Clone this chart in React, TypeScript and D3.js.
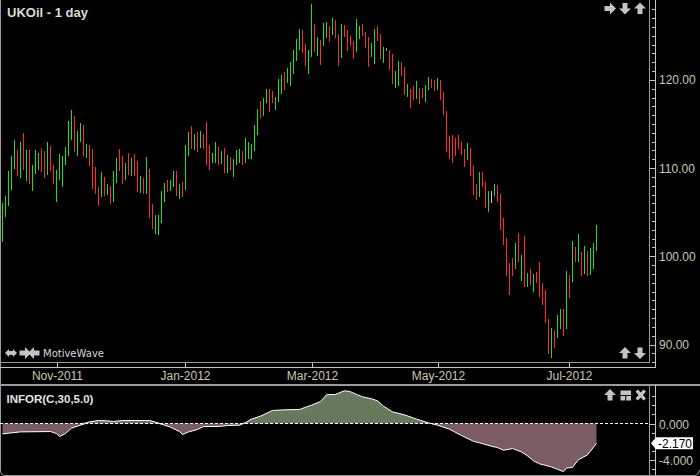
import * as d3 from "d3";

// price bars, one entry per trading day
const barHighs = [
  106.08, 106.83, 109.67, 111.37, 113.18, 112.05, 112.95, 113.97, 112.05, 112.05,
  110.35, 112.05, 111.71, 112.27, 111.93, 112.95, 112.5, 110.35, 109.78, 111.59,
  111.37, 112.39, 115.34, 116.58, 115.9, 114.2, 115.11, 114.88, 112.73, 112.61,
  112.16, 110.12, 107.85, 109.55, 108.99, 108.19, 107.96, 109.67, 111.14, 112.16,
  111.37, 110.57, 111.71, 111.14, 111.59, 110.8, 109.1, 108.87, 111.25, 109.89,
  105.92, 104.68, 104.68, 107.4, 108.3, 108.65, 108.65, 109.67, 109.67, 108.19,
  108.42, 112.61, 114.09, 114.77, 113.86, 114.09, 114.2, 113.86, 115.22, 112.61,
  111.71, 112.95, 112.39, 111.93, 112.27, 111.48, 111.25, 111.03, 112.05, 112.16,
  111.94, 113.41, 112.96, 112.73, 114.89, 116.7, 117.61, 117.95, 118.97, 118.97,
  118.74, 118.06, 120.1, 120.55, 120.89, 121.35, 122.03, 123.39, 124.64, 125.77,
  125.66, 124.07, 123.39, 128.61, 126.34, 124.86, 124.52, 126.45, 126.57, 126.11,
  127.02, 126.79, 125.2, 126.34, 126.23, 125.66, 124.98, 124.41, 126.91, 126.11,
  126.34, 125.43, 124.86, 124.18, 125.77, 126.11, 125.2, 123.73, 123.62, 123.39,
  122.94, 121.01, 122.14, 122.03, 121.46, 119.53, 118.97, 119.31, 119.87, 119.08,
  119.08, 119.42, 120.33, 120.1, 119.99, 120.21, 119.99, 118.63, 116.47, 113.64,
  113.75, 113.41, 113.75, 112.96, 112.16, 112.84, 112.27, 110.34, 108.19, 109.55,
  109.55, 108.42, 107.39, 107.39, 108.19, 108.07, 107.07, 104.34, 102.08, 99.24,
  99.81, 101.51, 102.64, 100.15, 102.3, 98.11, 98.56, 97.99, 98.22, 99.36,
  96.97, 96.18, 92.89, 91.87, 91.64, 93.34, 94.01, 94.01, 98.33, 97.88,
  101.74, 101.06, 102.53, 100.49, 101.17, 100.6, 100.94, 101.51, 103.55,
];

const barLows = [
  101.65, 104.49, 105.73, 107.55, 109.93, 109.14, 108.91, 109.82, 108.57, 108.23,
  107.44, 109.36, 109.82, 109.59, 108.91, 109.25, 109.7, 108.23, 106.19, 108.68,
  107.89, 110.38, 111.4, 113.18, 111.86, 111.4, 112.99, 111.4, 111.18, 110.27,
  107.66, 107.1, 105.73, 106.76, 106.87, 106.98, 105.96, 106.19, 108.34, 109.7,
  108.23, 108.68, 109.25, 109.14, 109.14, 107.32, 107.21, 107.1, 107.1, 104.37,
  103.13, 102.56, 102.45, 103.81, 106.19, 107.32, 107.44, 107.89, 106.87, 106.53,
  106.76, 107.55, 111.4, 112.16, 112.05, 111.86, 112.27, 112.16, 110.38, 109.82,
  110.61, 110.61, 110.38, 110.5, 109.48, 109.48, 109.82, 109.02, 110.38, 110.61,
  110.39, 110.61, 111.07, 111.07, 111.97, 113.79, 115.72, 115.94, 117.42, 116.4,
  117.42, 116.62, 117.53, 118.44, 118.89, 119.69, 119.35, 120.71, 122.18, 123.43,
  123.09, 121.61, 120.71, 122.63, 123.2, 122.75, 121.73, 123.88, 124.79, 124.33,
  125.13, 124.79, 121.61, 122.52, 124.9, 123.31, 123.88, 122.41, 123.2, 124.64,
  125.02, 123.65, 121.5, 122.63, 121.84, 124.45, 122.41, 121.95, 123.31, 121.16,
  119.57, 119.12, 119.35, 120.48, 118.32, 118.1, 116.85, 117.76, 117.87, 117.3,
  117.98, 117.53, 118.89, 119.12, 118.78, 118.89, 117.76, 116.06, 111.86, 111.07,
  110.61, 111.41, 112.2, 111.52, 110.16, 110.95, 109.13, 106.98, 106.41, 106.75,
  107.89, 105.5, 105.05, 106.07, 106.87, 106.18, 103.02, 101.32, 97.81, 95.65,
  97.81, 98.6, 99.39, 97.24, 96.56, 96.56, 96.78, 95.99, 97.01, 95.42,
  94.52, 92.46, 88.96, 88.51, 89.64, 90.77, 91.8, 90.99, 91.8, 95.31,
  97.13, 99.39, 99.39, 97.81, 98.03, 97.81, 97.92, 98.6, 100.6,
];

// u = closed up, d = closed down, n = unchanged
const barDirections = [
  "uuuuududud", "uuuddudduu", "uuuuduudud", "dddududuud", "dududdudud",
  "duuuuduudu", "duudududdd", "uudududuuu", "duuuuuduud", "duuuduuuuu",
  "dduududuud", "uddudddduu", "ddduudduud", "duudduddud", "duuddudddd",
  "dddddudddu", "ddunuddddd", "dududududd", "ddduduudud", "udududuuu",
].join("");

// month labels sit on these bars
const monthLabels = ["Nov-2011", "Jan-2012", "Mar-2012", "May-2012", "Jul-2012"];
const monthBars = [18.33, 61, 103.33, 145.33, 189];

const priceLabels = [120, 110, 100, 90];

// INFOR(C,30,5.0)
const inforBars = [
  0, 2, 6, 16, 18, 19, 21, 23, 25, 29, 32, 35, 37, 40, 49, 51, 54, 56, 59, 60, 62, 65, 67, 72, 75, 79,
  81, 83, 86, 90, 94, 99, 103, 106, 108, 111, 114, 116, 118, 120, 123, 125, 127, 130, 134, 138, 142,
  145, 149, 153, 157, 159, 163, 165, 167, 170, 173, 175, 177, 179, 183, 185, 187, 188, 190, 192, 195, 198,
];
const inforValues = [
  -1.14, -1.06, -0.92, -0.88, -1.1, -1.43, -1.1, -0.51, -0.29, 0.18, 0.33, 0.29, 0.22, 0.33, 0.33, 0.15, -0.18, -0.4, -0.88, -1.21, -0.92, -0.66, -0.33, -0.33, -0.22, -0.18,
  0.11, 0.48, 0.81, 1.43, 1.5, 1.54, 2.01, 2.41, 3.15, 3.19, 3.59, 3.48, 3.19, 2.93, 2.71, 2.49, 1.9, 1.28, 0.95, 0.48, 0.07,
  -0.18, -0.62, -1.32, -1.95, -2.12, -2.49, -2.64, -2.93, -2.75, -3.11, -3.55, -4.09, -4.42, -4.76, -5.02, -5.27, -4.88, -4.81, -3.96, -3.44, -2.17,
];
const inforLabels = [0, -4];
const lastInfor = -2.17;

const barColors: Record<string, string> = { u: "#1ee01e", d: "#ff2a2a", n: "#c8c8c8" };
const axisText = "#c8c8ae";
const frameGray = "#9a9a9a";
const iconGray = "#c4c4c4";

const ARROW = "M0,-6 L6,0 L2.5,0 L2.5,5.5 L-2.5,5.5 L-2.5,0 L-6,0 Z";

function Arrow({ x, y, angle }: { x: number; y: number; angle: number }) {
  return <path d={ARROW} fill={iconGray} transform={`translate(${x},${y}) rotate(${angle})`} />;
}

export default function App() {
  const x = d3.scaleLinear().domain([0, 198]).range([2.5, 596.5]);
  const y = d3.scaleLinear().domain([100, 120]).range([256.3, 79.9]);
  const yInfor = d3.scaleLinear().domain([0, -4]).range([423.5, 460]);

  const inforPoints = inforBars.map((b, i) => [b, inforValues[i]] as [number, number]);
  const inforLine = d3
    .line<[number, number]>()
    .x((d) => x(d[0]))
    .y((d) => yInfor(d[1]));
  const areaAbove = d3
    .area<[number, number]>()
    .x((d) => x(d[0]))
    .y0(yInfor(0))
    .y1((d) => yInfor(Math.max(d[1], 0)));
  const areaBelow = d3
    .area<[number, number]>()
    .x((d) => x(d[0]))
    .y0(yInfor(0))
    .y1((d) => yInfor(Math.min(d[1], 0)));

  const priceTicks = d3.range(88, 129);
  const inforTicks = d3.range(-5, 4);

  return (
    <div style={{ position: "fixed", left: 0, top: 0, width: 700, height: 476, background: "#000" }}>
      <style>{"body{margin:0;background:#000}"}</style>
      <svg width={700} height={476} style={{ display: "block" }} fontFamily="'Liberation Sans', Arial, sans-serif">
        <rect width={700} height={476} fill="#000" />

        {/* bars */}
        <g shapeRendering="crispEdges" strokeWidth={1}>
          {barHighs.map((h, i) => (
            <line
              key={i}
              x1={x(i)}
              x2={x(i)}
              y1={Math.round(y(h))}
              y2={Math.round(y(barLows[i]))}
              stroke={barColors[barDirections[i]]}
            />
          ))}
        </g>

        {/* frame */}
        <g shapeRendering="crispEdges" fill="none">
          <line x1={0.5} x2={0.5} y1={0} y2={470} stroke={frameGray} />
          <line x1={0} x2={650} y1={362.5} y2={362.5} stroke={frameGray} />
          <line x1={0} x2={656} y1={367.5} y2={367.5} stroke={axisText} />
          <line x1={649.5} x2={649.5} y1={0} y2={363} stroke={frameGray} />
          <line x1={655.5} x2={655.5} y1={0} y2={368} stroke={axisText} />
          <line x1={0} x2={700} y1={384.5} y2={384.5} stroke={frameGray} strokeWidth={2} />
          <line x1={649.5} x2={649.5} y1={385} y2={475} stroke={frameGray} />
          <line x1={655.5} x2={655.5} y1={385} y2={475} stroke={axisText} />
        </g>
        <path d="M0.5,470 Q0.5,475.5 5,475.5 L694,475.5 Q699,475.5 699.5,470" fill="none" stroke={frameGray} />

        {/* price axis */}
        <g shapeRendering="crispEdges" stroke={axisText}>
          {priceTicks.map((t) => (
            <line key={t} x1={t % 10 === 0 ? 650 : 652} x2={655} y1={Math.round(y(t)) + 0.5} y2={Math.round(y(t)) + 0.5} />
          ))}
        </g>
        {priceLabels.map((p) => (
          <text key={p} x={659} y={y(p) + 4.5} fontSize={12} fill={axisText}>
            {p.toFixed(2)}
          </text>
        ))}

        {/* time axis */}
        <g shapeRendering="crispEdges" stroke={axisText}>
          {monthBars.map((b) => (
            <line key={b} x1={Math.floor(x(b)) + 0.5} x2={Math.floor(x(b)) + 0.5} y1={363} y2={367} />
          ))}
        </g>
        {monthLabels.map((m, i) => (
          <text key={m} x={x(monthBars[i])} y={380} fontSize={12} fill={axisText} textAnchor="middle">
            {m}
          </text>
        ))}

        {/* INFOR panel */}
        <path d={areaAbove(inforPoints) ?? ""} fill="#677a5d" />
        <path d={areaBelow(inforPoints) ?? ""} fill="#7b5c61" />
        <path d={inforLine(inforPoints) ?? ""} fill="none" stroke="#fff" strokeWidth={1} />
        <line x1={0} x2={650} y1={423.5} y2={423.5} stroke="#fff" strokeDasharray="3 2" shapeRendering="crispEdges" />
        <g shapeRendering="crispEdges" stroke={axisText}>
          {inforTicks.map((t) => (
            <line key={t} x1={t % 4 === 0 ? 650 : 652} x2={655} y1={Math.round(yInfor(t)) + 0.5} y2={Math.round(yInfor(t)) + 0.5} />
          ))}
        </g>
        {inforLabels.map((v) => (
          <text key={v} x={659} y={yInfor(v) + 5} fontSize={12} fill={axisText}>
            {v.toFixed(3)}
          </text>
        ))}
        <path
          d={`M651,${yInfor(lastInfor)} L656,${yInfor(lastInfor) - 6} L693,${yInfor(lastInfor) - 6} L693,${yInfor(lastInfor) + 6} L656,${yInfor(lastInfor) + 6} Z`}
          fill="#fff"
        />
        <text x={658} y={yInfor(lastInfor) + 4.5} fontSize={12} fill="#000">
          {lastInfor.toFixed(3)}
        </text>

        {/* titles */}
        <text x={7} y={17} fontSize={13} fontWeight="bold" fill="#dcdccc">
          UKOil - 1 day
        </text>
        <text x={6.5} y={403} fontSize={11.5} fontWeight="bold" fill="#e4e4e4">
          INFOR(C,30,5.0)
        </text>
        <text x={43} y={356.5} fontSize={10} fontFamily="'DejaVu Sans', sans-serif" fill="#d8d8d8">
          MotiveWave
        </text>

        {/* chart control icons */}
        <Arrow x={610} y={8.5} angle={90} />
        <Arrow x={625} y={8.5} angle={180} />
        <Arrow x={640} y={8.5} angle={0} />
        <Arrow x={625} y={353} angle={0} />
        <Arrow x={640} y={353} angle={180} />
        <path
          d="M5,353 L9,349 L9,351 L13,351 L13,349 L17,353 L13,357 L13,355 L9,355 L9,357 Z"
          fill={iconGray}
        />
        <Arrow x={25} y={353} angle={90} />
        <Arrow x={34} y={353} angle={-90} />
        <Arrow x={610} y={395} angle={0} />
        <path d="M620.5,390.5 h10.5 v4.5 h-10.5 Z M620.5,396 h4.7 v4.5 h-4.7 Z M626.3,396 h4.7 v4.5 h-4.7 Z" fill={iconGray} />
        <path
          d="M635.5,391.5 L638,389.5 L640.7,392.5 L643.5,389.5 L646,391.5 L643,395 L646,398.5 L643.5,400.5 L640.7,397.5 L638,400.5 L635.5,398.5 L638.5,395 Z"
          fill={iconGray}
        />
      </svg>
    </div>
  );
}
